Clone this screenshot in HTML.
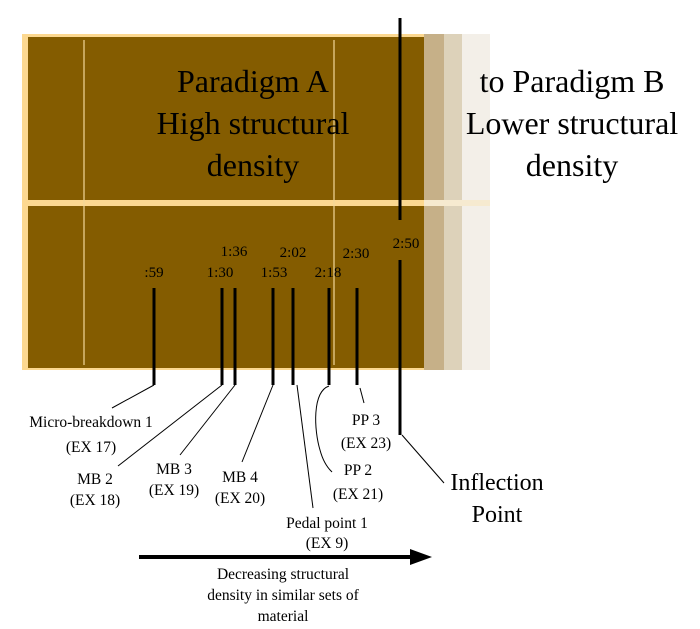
<!DOCTYPE html>
<html><head><meta charset="utf-8"><style>
html,body{margin:0;padding:0;background:#fff;}
svg{display:block;font-family:"Liberation Serif",serif;}
</style></head><body>
<svg width="700" height="629" viewBox="0 0 700 629" xmlns="http://www.w3.org/2000/svg">
<rect x="22" y="34" width="402" height="336" fill="#fcd890"/>
<rect x="28" y="37" width="396" height="163" fill="#845c00"/>
<rect x="28" y="206" width="396" height="162" fill="#845c00"/>
<rect x="424" y="34" width="20" height="336" fill="#c6b088"/>
<rect x="444" y="34" width="18" height="336" fill="#ddd2ba"/>
<rect x="462" y="34" width="28" height="336" fill="#f3efe8"/>
<rect x="424" y="200" width="66" height="6" fill="#f6ead0"/>
<g stroke="#f3d89a" stroke-width="1.2">
<line x1="84" y1="40" x2="84" y2="365"/><line x1="334" y1="40" x2="334" y2="365"/>
</g>
<g font-size="32" text-anchor="middle" fill="#000">
<text x="253" y="92">Paradigm A</text>
<text x="253" y="134">High structural</text>
<text x="253" y="176">density</text>
<text x="572" y="92">to Paradigm B</text>
<text x="572" y="134">Lower structural</text>
<text x="572" y="176">density</text>
</g>
<g font-size="15" text-anchor="middle" fill="#000">
<text x="154" y="277">:59</text>
<text x="220" y="277">1:30</text>
<text x="234" y="256">1:36</text>
<text x="274" y="277">1:53</text>
<text x="293" y="257">2:02</text>
<text x="328" y="277">2:18</text>
<text x="356" y="258">2:30</text>
<text x="406" y="248">2:50</text>
</g>
<g stroke="#000" stroke-width="3">
<line x1="154" y1="288" x2="154" y2="385"/>
<line x1="222" y1="288" x2="222" y2="385"/>
<line x1="235" y1="288" x2="235" y2="385"/>
<line x1="273" y1="288" x2="273" y2="385"/>
<line x1="293" y1="288" x2="293" y2="385"/>
<line x1="329" y1="288" x2="329" y2="385"/>
<line x1="357" y1="288" x2="357" y2="385"/>
<line x1="400" y1="18" x2="400" y2="220"/>
<line x1="400" y1="260" x2="400" y2="435"/>
</g>
<g stroke="#000" stroke-width="1" fill="none">
<line x1="154" y1="385" x2="112" y2="408"/>
<line x1="222" y1="385" x2="118" y2="466"/>
<line x1="235" y1="385" x2="180" y2="455"/>
<line x1="273" y1="385" x2="242" y2="462"/>
<line x1="297" y1="385" x2="313" y2="508"/>
<path d="M329 386 C312 392 314 430 320 450 C324 465 330 470 332 472"/>
<line x1="360" y1="388" x2="364" y2="403"/>
<line x1="402" y1="435" x2="444" y2="483"/>
</g>
<g font-size="15.5" text-anchor="middle" fill="#000">
<text x="91" y="427">Micro-breakdown 1</text>
<text x="91" y="452">(EX 17)</text>
<text x="95" y="484">MB 2</text>
<text x="95" y="505">(EX 18)</text>
<text x="174" y="474">MB 3</text>
<text x="174" y="495">(EX 19)</text>
<text x="240" y="482">MB 4</text>
<text x="240" y="503">(EX 20)</text>
<text x="327" y="528">Pedal point 1</text>
<text x="327" y="548">(EX 9)</text>
<text x="358" y="475">PP 2</text>
<text x="358" y="499">(EX 21)</text>
<text x="366" y="425">PP 3</text>
<text x="366" y="448">(EX 23)</text>
<text x="283" y="579">Decreasing structural</text>
<text x="283" y="600">density in similar sets of</text>
<text x="283" y="621">material</text>
</g>
<g font-size="24" text-anchor="middle" fill="#000">
<text x="497" y="490">Inflection</text>
<text x="497" y="522">Point</text>
</g>
<line x1="139" y1="557" x2="412" y2="557" stroke="#000" stroke-width="4"/>
<polygon points="410,549 432,557 410,565" fill="#000"/>
</svg>
</body></html>
